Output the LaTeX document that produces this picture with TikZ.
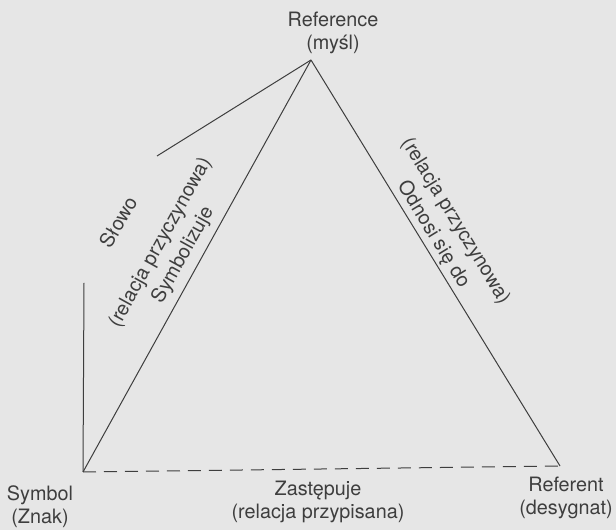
\documentclass[tikz,border=0pt]{standalone}
\usepackage{fontspec}
\setmainfont{TeX Gyre Heros}
\usetikzlibrary{positioning}
\definecolor{paper}{HTML}{E6E6E6}
\definecolor{ink}{HTML}{3E3E3E}
\newcommand{\labelfont}{\fontsize{19.8}{23}\selectfont}
\newcommand{\slantfont}{\fontsize{19.8}{26}\selectfont}

\begin{document}
\begin{tikzpicture}[
  x=1pt, y=1pt,
  side/.style={draw=ink, line width=1pt},
  assigned/.style={side, dash pattern=on 13pt off 8pt},
  caption/.style={font=\labelfont, text=ink, align=center, inner sep=0pt},
  slanted/.style={caption, font=\slantfont}
]

\fill[paper] (0,0) rectangle (616,530);
\useasboundingbox (0,0) rectangle (616,530);

% corners of the triangle
\coordinate (apex) at (311,470);
\coordinate (symbol) at (83,58);
\coordinate (referent) at (560,64);
\coordinate (wordend) at (157,374);
\coordinate (wordstart) at (84,247);

% sides
\draw[side] (symbol) -- (apex);
\draw[side] (apex) -- (referent);
\draw[side] (wordend) -- (apex);
\draw[side] (wordstart) -- (symbol);
\draw[assigned] (symbol) -- (referent);

% vertex captions
\node[caption] (thought) at (333,497) {Reference\\(myśl)};
\node[caption] (sign) at (40,23) {Symbol\\(Znak)};
\node[caption] (object) at (566,32) {Referent\\(desygnat)};
\node[caption] (stands) at (318,28) {Zastępuje\\(relacja przypisana)};

% side captions
\node[slanted, rotate=60] (word) at (118,308) {Słowo};
\node[slanted, rotate=61] (symbolizes) at (172,281)
  {(relacja przyczynowa)\\Symbolizuje};
\node[slanted, rotate=-58.5] (refers) at (444,302)
  {(relacja przyczynowa)\\Odnosi się do};

\end{tikzpicture}
\end{document}
